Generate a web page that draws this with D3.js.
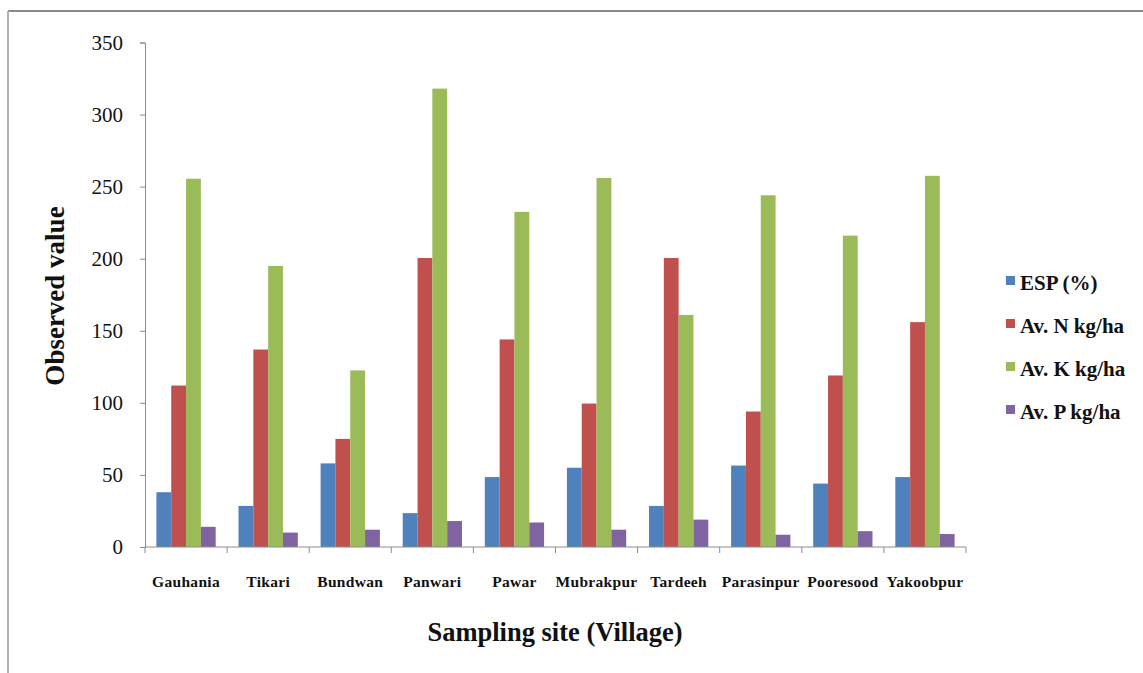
<!DOCTYPE html>
<html>
<head>
<meta charset="utf-8">
<script src="https://cdn.jsdelivr.net/npm/d3@7"></script>
<style>
  html, body { margin: 0; padding: 0; background: #fff; }
  svg { display: block; }
</style>
</head>
<body>
<script>
// Soil parameters per sampling village
const villages = ["Gauhania", "Tikari", "Bundwan", "Panwari", "Pawar", "Mubrakpur", "Tardeeh", "Parasinpur", "Pooresood", "Yakoobpur"];
const seriesNames = ["ESP (%)", "Av. N kg/ha", "Av. K kg/ha", "Av. P kg/ha"];
const espValues = [38, 28.5, 58, 23.5, 48.5, 55, 28.5, 56.5, 44, 48.5];
const nValues   = [112, 137, 75, 200.5, 144, 99.5, 200.5, 94, 119, 156];
const kValues   = [255.5, 195, 122.5, 318, 232.5, 256, 161, 244, 216, 257.5];
const pValues   = [14, 10, 12, 18, 17, 12, 19, 8.5, 11, 9];
const yTicks = [0, 50, 100, 150, 200, 250, 300, 350];
const colors = ["#4F81BD", "#C0504D", "#9BBB59", "#8064A2"];

const FONT = "'Liberation Serif', 'Times New Roman', 'DejaVu Serif', serif";

const seriesValues = [espValues, nValues, kValues, pValues];
const rows = villages.map((v, i) => ({
  village: v,
  values: seriesNames.map((s, j) => ({ key: s, value: seriesValues[j][i] }))
}));

const W = 1143, H = 673;
const svg = d3.select("body").append("svg").attr("width", W).attr("height", H)
  .attr("font-family", FONT);

// frame lines (top and left)
svg.append("line").attr("x1", 8).attr("x2", W).attr("y1", 11).attr("y2", 11)
  .attr("stroke", "#8a8a8a").attr("stroke-width", 2);
svg.append("line").attr("x1", 8).attr("x2", 8).attr("y1", 11).attr("y2", H)
  .attr("stroke", "#b0b0b0").attr("stroke-width", 2);

const plotLeft = 145, plotRight = 966, plotTop = 42.5, plotBottom = 547;

const x0 = d3.scaleBand().domain(villages).range([plotLeft, plotRight]).padding(0);
const x1 = d3.scaleBand().domain(seriesNames).range([0, x0.bandwidth()])
  .paddingInner(0).paddingOuter(0.77);
const y = d3.scaleLinear().domain([0, 350]).range([plotBottom, plotTop]);

// bars
const g = svg.append("g");
g.selectAll("g.grp").data(rows).join("g")
  .attr("class", "grp")
  .attr("transform", d => `translate(${x0(d.village)},0)`)
  .selectAll("rect").data(d => d.values).join("rect")
  .attr("x", d => x1(d.key))
  .attr("width", x1.bandwidth())
  .attr("y", d => y(d.value))
  .attr("height", d => y(0) - y(d.value))
  .attr("fill", (d, i) => colors[i]);

// y axis
const yAxis = svg.append("g").attr("transform", `translate(${plotLeft},0)`)
  .call(d3.axisLeft(y).tickValues(yTicks).tickSize(5).tickPadding(17).tickFormat(d3.format("d")));
yAxis.attr("font-family", FONT);
yAxis.select(".domain").attr("stroke", "#8c8c8c");
yAxis.selectAll(".tick line").attr("stroke", "#8c8c8c");
yAxis.selectAll(".tick text").attr("font-size", 21).attr("fill", "#111").attr("font-family", FONT);

// x axis baseline with boundary ticks
const xAxisG = svg.append("g");
xAxisG.append("line").attr("x1", plotLeft).attr("x2", plotRight).attr("y1", plotBottom).attr("y2", plotBottom)
  .attr("stroke", "#8c8c8c");
const boundaries = villages.map(v => x0(v)).concat([x0(villages[villages.length - 1]) + x0.bandwidth()]);
xAxisG.selectAll("line.b").data(boundaries).join("line")
  .attr("class", "b")
  .attr("x1", d => d).attr("x2", d => d)
  .attr("y1", plotBottom).attr("y2", plotBottom + 6)
  .attr("stroke", "#8c8c8c");
xAxisG.selectAll("text.cat").data(villages).join("text")
  .attr("class", "cat")
  .attr("x", d => x0(d) + x0.bandwidth() / 2)
  .attr("y", 587)
  .attr("text-anchor", "middle")
  .attr("font-size", 15.5)
  .attr("font-weight", "bold")
  .attr("letter-spacing", 0.3)
  .attr("fill", "#111")
  .text(d => d);

// axis titles
svg.append("text")
  .attr("transform", "translate(64,296) rotate(-90)")
  .attr("text-anchor", "middle")
  .attr("font-size", 27)
  .attr("font-weight", "bold")
  .attr("fill", "#111")
  .text("Observed value");
svg.append("text")
  .attr("x", 555).attr("y", 641)
  .attr("text-anchor", "middle")
  .attr("font-size", 26.5)
  .attr("font-weight", "bold")
  .attr("fill", "#111")
  .text("Sampling site (Village)");

// legend
const legend = svg.append("g").attr("transform", "translate(1006,0)");
const li = legend.selectAll("g").data(seriesNames).join("g")
  .attr("transform", (d, i) => `translate(0,${284 + i * 43})`);
li.append("rect").attr("x", 0).attr("y", -8).attr("width", 9).attr("height", 9)
  .attr("fill", (d, i) => colors[i]);
li.append("text").attr("x", 14).attr("y", 1)
  .attr("dominant-baseline", "middle")
  .attr("font-size", 21)
  .attr("font-weight", "bold")
  .attr("fill", "#111")
  .text(d => d);
</script>
</body>
</html>
